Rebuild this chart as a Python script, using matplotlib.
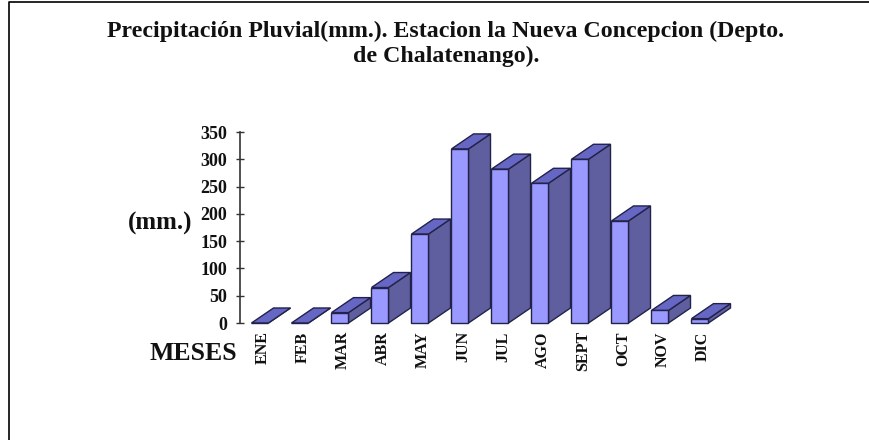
import matplotlib
matplotlib.use("Agg")
import matplotlib.pyplot as plt
from matplotlib.lines import Line2D
from matplotlib.patches import Polygon
from matplotlib.transforms import ScaledTranslation

MONTHS = ["ENE", "FEB", "MAR", "ABR", "MAY", "JUN", "JUL", "AGO", "SEPT", "OCT", "NOV", "DIC"]
RAIN_MM = [0, 0, 19, 65, 163, 319, 282, 256, 300, 187, 23, 8]
Y_TICKS = [0, 50, 100, 150, 200, 250, 300, 350]
TITLE = "Precipitación Pluvial(mm.). Estacion la Nueva Concepcion (Depto.\nde Chalatenango)."

W, H = 870, 440
FRONT = "#9999ff"
SIDE = "#5f5f9f"
TOP = "#6666c4"
EDGE = "#22224a"

plt.rcParams["font.family"] = ["Liberation Serif", "DejaVu Serif"]
plt.rcParams["font.weight"] = "bold"

fig = plt.figure(figsize=(W / 100, H / 100), dpi=100)
ax = fig.add_axes([240 / W, 1 - 323 / H, 480 / W, 191 / H])
ax.set_xlim(-0.5, 11.5)
ax.set_ylim(0, 350)

# fake 3d depth, in data units (22px right, 15px up)
bar_w = 0.425
depth_x = 0.55
depth_y = 27.5

for i, val in enumerate(RAIN_MM):
    left = i - bar_w / 2
    right = i + bar_w / 2
    z = 2 + i
    side = [(right, 0), (right + depth_x, depth_y), (right + depth_x, val + depth_y), (right, val)]
    top = [(left, val), (left + depth_x, val + depth_y), (right + depth_x, val + depth_y), (right, val)]
    ax.add_patch(Polygon(side, facecolor=SIDE, edgecolor=EDGE, lw=1, zorder=z, clip_on=False))
    ax.add_patch(Polygon(top, facecolor=TOP, edgecolor=EDGE, lw=1, zorder=z, clip_on=False))
    ax.bar(i, val, width=bar_w, color=FRONT, edgecolor=EDGE, lw=1, zorder=z, clip_on=False)

for name in ["top", "right", "bottom"]:
    ax.spines[name].set_visible(False)
ax.spines["left"].set_color("#333333")
ax.spines["left"].set_linewidth(1.2)

ax.set_yticks(Y_TICKS)
ax.set_xticks(range(len(MONTHS)))
ax.set_xticklabels(MONTHS, rotation=90, fontsize=11.5, fontweight="bold", color="#111111")
ax.tick_params(axis="x", length=0, pad=6)
ax.tick_params(axis="y", direction="inout", length=6, width=1, color="#333333", labelsize=13, pad=6, labelcolor="#111111")

# month labels sit 3px right of the bar centres
nudge = ScaledTranslation(3 / 100, 0, fig.dpi_scale_trans)
for label in ax.get_xticklabels():
    label.set_transform(label.get_transform() + nudge)

lines = TITLE.split("\n")
fig.text(446 / W, 1 - 31 / H, lines[0], ha="center", va="center", fontsize=17.2, color="#111111")
fig.text(446 / W, 1 - 56 / H, lines[1], ha="center", va="center", fontsize=17.2, color="#111111")
fig.text(160 / W, 1 - 223 / H, "(mm.)", ha="center", va="center", fontsize=18, color="#111111")
fig.text(193.5 / W, 1 - 353 / H, "MESES", ha="center", va="center", fontsize=18.5, color="#111111")

# outer frame of the pasted picture
fig.add_artist(Line2D([9.5 / W, 9.5 / W, 1], [0, 1 - 2.5 / H, 1 - 2.5 / H], color="black", lw=1.2))

fig.savefig("out.png", dpi=100)
